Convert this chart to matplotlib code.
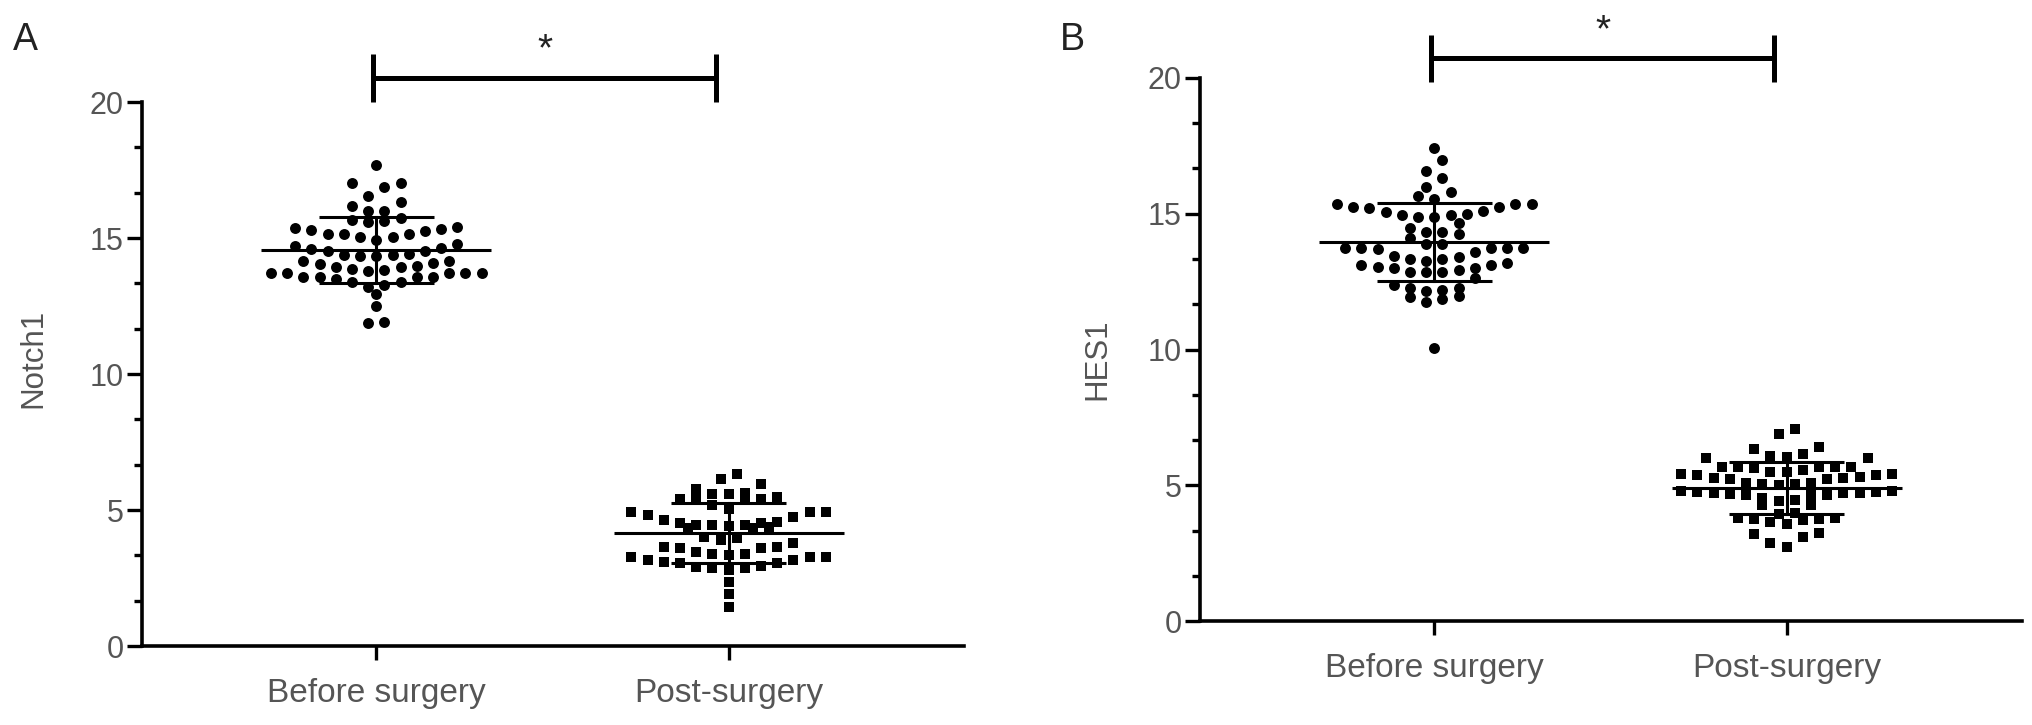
import numpy as np
import matplotlib
matplotlib.use("Agg")
import matplotlib.pyplot as plt
from matplotlib.ticker import MultipleLocator, AutoMinorLocator

# ── data ──────────────────────────────────────────────────────────────────────
groups = ["Before surgery", "Post-surgery"]

notch_before = [
    17.68, 17.01, 16.86, 17.01, 16.54, 16.17, 15.99, 15.99, 16.31, 15.68, 15.74,
    15.60, 15.38, 15.29, 15.13, 15.13, 15.02, 15.02, 15.13, 15.25, 15.33, 15.39, 15.63,
    14.92, 14.71, 14.59, 14.52, 14.37, 14.33, 14.33, 14.37, 14.43, 14.52, 14.65, 14.78,
    14.15, 14.03, 13.92, 13.85, 13.79, 13.72, 13.70, 13.57, 13.70, 13.70, 13.72, 13.82,
    13.92, 13.98, 14.07, 14.16,
    13.57, 13.39, 13.21, 13.55, 13.27, 13.57, 13.51, 13.39,
    12.94, 12.50, 11.92, 11.88,
]
notch_post = [
    6.32, 6.13, 5.94, 5.76, 5.63, 5.57, 5.57,
    5.48, 5.39, 5.39, 5.39, 5.39, 5.18, 5.02,
    4.93, 4.93, 4.93, 4.81, 4.75,
    4.63, 4.57, 4.54, 4.51, 4.45, 4.45, 4.45, 4.40, 4.38, 4.32, 4.32,
    4.01, 3.96, 3.89, 3.77, 3.65,
    3.65, 3.59, 3.46, 3.40, 3.34, 3.28, 3.26, 3.16, 3.10, 3.04, 3.04, 3.16, 3.28,
    3.40, 3.59,
    2.94, 2.91, 2.85, 2.79, 2.85,
    2.36, 1.93, 1.44,
]
hes_before = [
    17.42, 16.97, 16.57, 16.30, 15.99, 15.78, 15.66, 15.54,
    15.34, 15.34, 15.25, 15.25, 15.34,
    15.09, 14.88, 14.97, 14.95, 14.64, 14.95, 15.07, 14.88, 15.19, 14.46,
    14.33, 14.31, 14.24,
    14.11, 13.87, 13.72, 13.72, 13.72, 13.70, 13.72, 13.74, 13.87,
    13.57, 13.41, 13.33, 13.25, 13.33, 13.45,
    13.17, 13.11, 12.86, 12.84, 13.05, 13.01, 12.86, 12.99, 12.92, 13.11, 12.64,
    12.25, 12.19, 12.37, 11.98, 11.85, 11.76, 11.92, 12.15, 12.25,
    10.04,
]
hes_post = [
    7.08, 6.88, 6.40, 6.34,
    6.15, 6.06, 6.00, 6.02, 6.08,
    5.69, 5.69, 5.63, 5.69, 5.69, 5.69,
    5.51, 5.41, 5.38, 5.32, 5.23, 5.23, 5.08, 5.04, 5.02, 5.04, 5.08, 5.26, 5.29,
    5.38, 5.41, 5.51, 5.57,
    4.80, 4.75, 4.71, 4.65, 4.65, 4.53, 4.43, 4.28, 4.28, 4.47, 4.71, 4.68, 4.65,
    4.71, 4.75, 4.80,
    3.94, 4.00,
    3.79, 3.76, 3.67, 3.57, 3.73, 3.77, 3.79,
    3.24, 3.12, 3.20,
    2.75, 2.87,
]

GREY = "#555555"
FONT = ["Liberation Sans", "DejaVu Sans"]
plt.rcParams["font.family"] = FONT


def prism_x(values, centre, bin_h=0.55, step=0.046):
    """Scatter-dot layout: values in the same band sit side by side, lowest in the middle."""
    vals = np.asarray(values, dtype=float)
    xs = np.empty(len(vals))
    bins = np.floor(vals / bin_h).astype(int)
    for b in np.unique(bins):
        idx = np.where(bins == b)[0]
        idx = idx[np.argsort(vals[idx], kind="stable")]
        slots = np.arange(len(idx)) - (len(idx) - 1) / 2
        order = np.argsort(np.abs(slots), kind="stable")
        xs[idx] = centre + slots[order] * step
    return xs


def draw_panel(ax, before, post, bar_y, bar_lo, star_y):
    for i, (vals, mk, sz) in enumerate([(before, "o", 62), (post, "s", 48)]):
        xs = prism_x(vals, i)
        ax.scatter(xs, vals, marker=mk, s=sz, color="black", linewidths=0, zorder=3)
        m, sd = np.mean(vals), np.std(vals, ddof=1)
        ax.plot([i - 0.326, i + 0.326], [m, m], color="black", lw=2.2, zorder=4,
                solid_capstyle="butt")
        ax.plot([i, i], [m - sd, m + sd], color="black", lw=2.2, zorder=4)
        for yy in (m - sd, m + sd):
            ax.plot([i - 0.163, i + 0.163], [yy, yy], color="black", lw=2.2, zorder=4,
                    solid_capstyle="butt")

    # significance bracket
    ax.plot([-0.01, 0.965], [bar_y, bar_y], color="black", lw=3.6, clip_on=False,
            solid_capstyle="butt")
    for xx in (-0.01, 0.965):
        ax.plot([xx, xx], [bar_lo, bar_lo + 1.75], color="black", lw=3.6, clip_on=False,
                solid_capstyle="butt")
    ax.text(0.48, star_y, "*", ha="center", va="baseline", fontsize=28, color="#222222")

    ax.set_xlim(-0.665, 1.668)
    ax.set_ylim(0, 20)
    ax.set_xticks([0, 1])
    ax.set_xticklabels(groups, fontsize=24, color=GREY)
    ax.yaxis.set_major_locator(MultipleLocator(5))
    ax.yaxis.set_minor_locator(AutoMinorLocator(3))
    ax.tick_params(axis="y", which="major", length=11, width=2.4, labelsize=22,
                   labelcolor=GREY, pad=2)
    ax.tick_params(axis="y", which="minor", length=6, width=2.4)
    ax.tick_params(axis="x", length=10, width=2.4, pad=13)
    for side in ("top", "right"):
        ax.spines[side].set_visible(False)
    for side in ("left", "bottom"):
        ax.spines[side].set_linewidth(2.6)


fig = plt.figure(figsize=(20.32, 7.25), dpi=100)
W, H = 2032, 725
axA = fig.add_axes([142 / W, 1 - 646 / H, 822 / W, 544 / H])
axB = fig.add_axes([1200 / W, 1 - 621.4 / H, 822 / W, 543.8 / H])

draw_panel(axA, notch_before, notch_post, 20.9, 20.0, 21.55)
draw_panel(axB, hes_before, hes_post, 20.73, 19.83, 21.35)

fig.text(33 / W, 1 - 358 / H, "Notch1", rotation=90, ha="center", va="center",
         fontsize=22.5, color=GREY)
fig.text(1097 / W, 1 - 359 / H, "HES1", rotation=90, ha="center", va="center",
         fontsize=22.5, color=GREY)
fig.text(13 / W, 1 - 50 / H, "A", fontsize=27, color="#222222", ha="left", va="baseline")
fig.text(1060 / W, 1 - 50 / H, "B", fontsize=27, color="#222222", ha="left", va="baseline")

fig.savefig("out.png", dpi=100)
